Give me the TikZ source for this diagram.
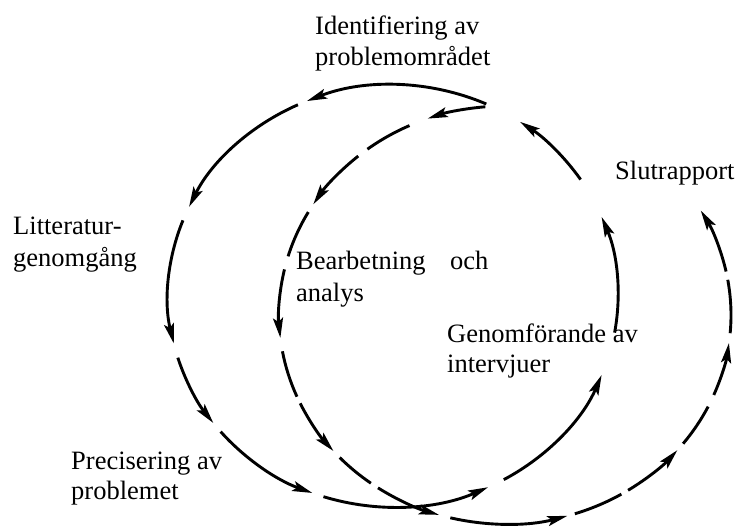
\documentclass[tikz,border=0pt]{standalone}
\usepackage{fontspec}
\setmainfont{Liberation Serif}
\usetikzlibrary{arrows.meta}
\newcommand{\ArcO}[3]{\draw[#1] (393,233) ++(#2:225 and 211) arc[start angle=#2, end angle=#3, x radius=225, y radius=211];}
\newcommand{\ArcI}[3]{\draw[#1] (505,214) ++(#2:226 and 209) arc[start angle=#2, end angle=#3, x radius=226, y radius=209];}
\begin{document}
\begin{tikzpicture}[x=1pt,y=1pt,
  lbl/.style={anchor=base west, inner sep=0pt, font=\fontsize{26.5}{30}\selectfont},
  seg/.style={line width=2.9pt},
  aseg/.style={seg, -{Stealth[length=20pt,width=10pt,inset=4pt]}}]
\useasboundingbox (0,0) rectangle (735,529);
% labels
\node[lbl] (ident1) at (315,494) {Identifiering av};
\node[lbl] (ident2) at (315,463) {problemområdet};
\node[lbl] (slut) at (615,349) {Slutrapport};
\node[lbl] (litt1) at (13,294) {Litteratur-};
\node[lbl] (litt2) at (13,262) {genomgång};
\node[lbl] (bearb1) at (296,259) {Bearbetning};
\node[lbl] (och) at (450,259) {och};
\node[lbl] (bearb2) at (296,227) {analys};
\node[lbl] (genom1) at (447,186) {Genomförande av};
\node[lbl] (genom2) at (447,156) {intervjuer};
\node[lbl] (prec1) at (71,59) {Precisering av};
\node[lbl] (prec2) at (71,29) {problemet};
% outer loop
\ArcO{aseg}{65.5}{112.5}
\ArcO{aseg}{115}{155}
\ArcO{aseg}{159}{193}
\ArcO{aseg}{197}{217}
\ArcO{aseg}{220}{249}
\ArcO{aseg}{252}{295}
\ArcO{aseg}{299.5}{338}
\ArcO{aseg}{350}{382}
\ArcO{aseg}{393.5}{415.6}
% inner loop
\ArcI{aseg}{95}{110}
\ArcI{seg}{115}{127.5}
\ArcI{aseg}{130.5}{148}
\ArcI{seg}{150.5}{163.7}
\ArcI{aseg}{167.4}{186.3}
\ArcI{seg}{190}{203}
\ArcI{aseg}{205}{220.6}
\ArcI{seg}{223}{233.6}
\ArcI{aseg}{235.8}{253}
\ArcI{aseg}{256}{286}
\ArcI{seg}{288}{301}
\ArcI{aseg}{303}{319.7}
\ArcI{seg}{322}{334}
\ArcI{aseg}{337.5}{352.3}
\ArcI{seg}{355}{369.7}
\ArcI{aseg}{372}{390}
\end{tikzpicture}
\end{document}
